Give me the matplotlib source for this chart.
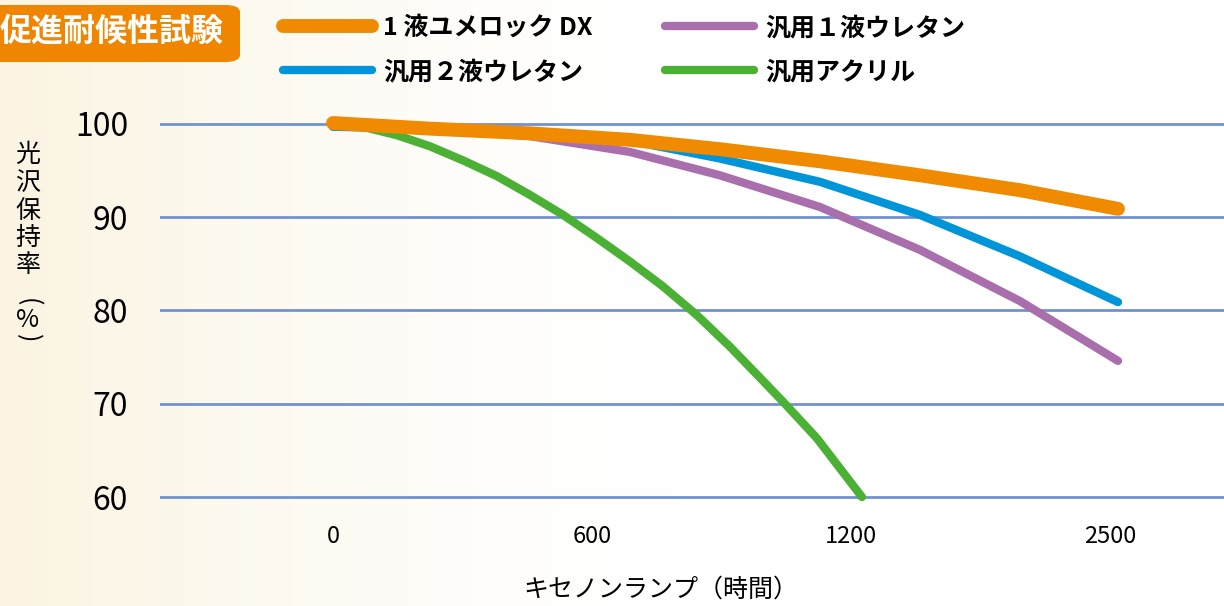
#!/usr/bin/env python3
import numpy as np
import matplotlib
matplotlib.use("Agg")
import matplotlib.pyplot as plt
from matplotlib.patches import FancyBboxPatch

plt.rcParams['font.family'] = ['Noto Sans CJK JP', 'DejaVu Sans']

# ---- data ----
tick_hours = [0, 600, 1200, 2500]
tick_labels = ["0", "600", "1200", "2500"]
y_ticks = [60, 70, 80, 90, 100]

names = ["1 液ユメロック DX", "汎用２液ウレタン", "汎用１液ウレタン", "汎用アクリル"]
colors = ["#f08a00", "#0095d9", "#a96fad", "#4bb135"]
widths = [10, 6, 6, 6]

dx_hours = [0, 225, 456, 688, 896, 1128, 1546, 2049, 2540]
dx_vals = [100.1, 99.5, 99.0, 98.3, 97.3, 96.0, 94.5, 92.9, 90.9]

pu2_hours = [0, 225, 456, 688, 896, 1128, 1546, 2049, 2540]
pu2_vals = [99.7, 99.5, 99.0, 98.2, 96.3, 93.8, 90.25, 85.8, 80.9]

pu1_hours = [0, 225, 456, 688, 896, 1128, 1546, 2049, 2540]
pu1_vals = [100.0, 99.5, 98.7, 97.0, 94.5, 91.1, 86.5, 81.0, 74.6]

acr_hours = [0, 69, 148, 225, 301, 380, 456, 533, 612, 688, 764, 843,
             920, 989, 1047, 1121, 1255]
acr_vals = [100.0, 99.7, 98.8, 97.6, 96.1, 94.4, 92.4, 90.25, 87.75, 85.25,
            82.6, 79.5, 76.1, 72.8, 70.0, 66.3, 60.0]

series = [(dx_hours, dx_vals), (pu2_hours, pu2_vals),
          (pu1_hours, pu1_vals), (acr_hours, acr_vals)]

# hours -> evenly spaced category positions (piecewise linear axis)
bp_hours = [-1200, 0, 600, 1200, 2500, 3800]
bp_pos = [-2, 0, 1, 2, 3, 4]


def fwd(h):
    return np.interp(h, bp_hours, bp_pos)


def inv(p):
    return np.interp(p, bp_pos, bp_hours)


def main():
    W, H = 1224, 606
    fig = plt.figure(figsize=(W / 100, H / 100), dpi=100)

    # cream-to-white background
    bg = fig.add_axes([0, 0, 1, 1], zorder=-10)
    gx = np.linspace(0, 1, 400)
    fade = np.clip(1 - gx / 0.55, 0, 1) ** 1.4
    cream = np.array([251, 244, 226]) / 255.0
    row = 1 - fade[:, None] * (1 - cream[None, :])
    img = np.repeat(row[None, :, :], 10, axis=0)
    bg.imshow(img, aspect='auto', extent=[0, 1, 0, 1])
    bg.set_axis_off()

    y_lo, y_hi = 58.5, 103
    px_per = 9.33
    bottom_px = 497 + (60 - y_lo) * px_per
    top_px = 124 - (y_hi - 100) * px_per
    ax = fig.add_axes([160 / W, 1 - bottom_px / H, 1 - 160 / W,
                       (bottom_px - top_px) / H])
    ax.set_facecolor('none')
    ax.set_xscale('function', functions=(fwd, inv))
    ax.set_xlim(inv((160 - 333) / 259), inv((W - 333) / 259))
    ax.set_ylim(y_lo, y_hi)

    for yv in y_ticks:
        ax.axhline(yv, color='#7192d2', lw=2.0, zorder=1)

    handles = []
    for (hx, hv), name, c, lw in zip(series, names, colors, widths):
        ln, = ax.plot(hx, hv, color=c, lw=lw, solid_capstyle='round',
                      solid_joinstyle='round', label=name, clip_on=False)
        handles.append(ln)
    # stacking: orange on top
    for z, ln in zip([5, 4, 3, 2], handles):
        ln.set_zorder(z)

    ax.set_xticks(tick_hours)
    ax.set_xticklabels(tick_labels, fontsize=17)
    ax.set_yticks(y_ticks)
    ax.set_yticklabels([str(v) for v in y_ticks], fontsize=23)
    ax.tick_params(axis='x', length=0, pad=10)
    ax.tick_params(axis='y', length=0, pad=23)
    for s in ax.spines.values():
        s.set_visible(False)

    # x axis label
    fig.text(661 / W, 1 - 590 / H, "キセノンランプ（時間）", fontsize=18,
             ha='center', va='center')

    # vertical y label (characters stacked, brackets turned)
    ylab_chars = ["光", "沢", "保", "持", "率", "(", "%", ")"]
    ylab_pos = [155, 183, 211, 238, 265, 302, 320, 338]
    for ch, yp in zip(ylab_chars, ylab_pos):
        rot = -90 if ch in "()" else 0
        fig.text(28 / W, 1 - yp / H, ch, fontsize=18,
                 ha='center', va='center', rotation=rot,
                 rotation_mode='anchor')

    # title box
    box = FancyBboxPatch((-20 / W, 1 - 62 / H), 260 / W, 57 / H,
                         boxstyle="round,pad=0,rounding_size=0.012",
                         transform=fig.transFigure, facecolor='#ef8500',
                         edgecolor='none', zorder=5)
    fig.patches.append(box)
    fig.text(224 / W, 1 - 32 / H, "促進耐候性試験", fontsize=23,
             fontweight='bold', color='white', ha='right', va='center',
             zorder=6)

    fig.legend(handles=handles, loc='upper left',
               bbox_to_anchor=(283 / W, 1 - 16 / H), ncol=2, frameon=False,
               borderpad=0, borderaxespad=0, handlelength=3.56,
               handletextpad=0.44, labelspacing=0.8, columnspacing=2.9,
               prop={'size': 18, 'weight': 'bold'})

    fig.savefig("out.png", dpi=100)


if __name__ == "__main__":
    main()
